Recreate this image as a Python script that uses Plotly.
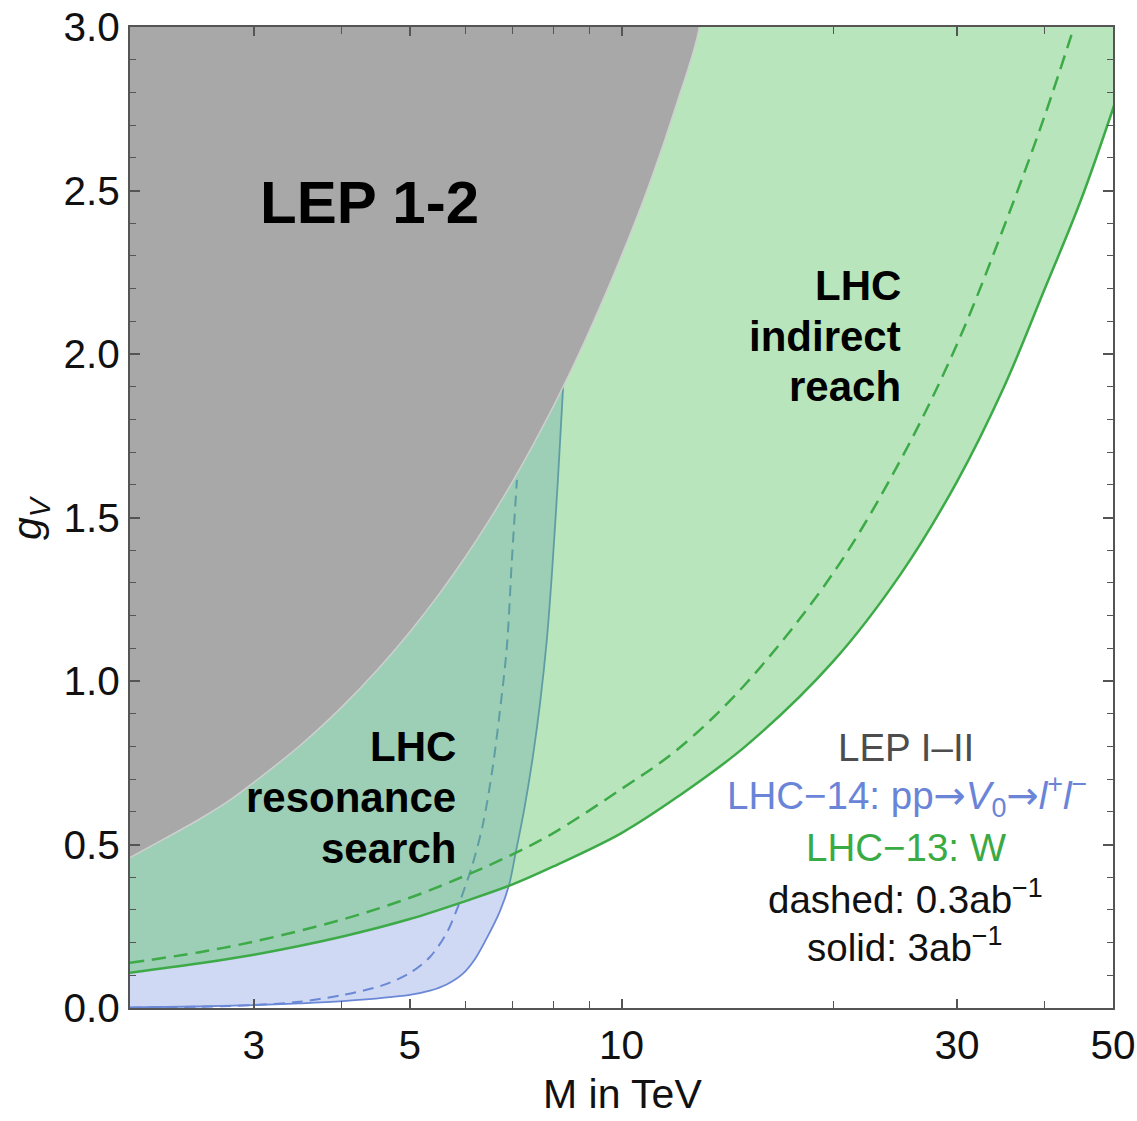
import math
import plotly.graph_objects as go

# ---------------- data ----------------
# LEP I-II exclusion boundary (g_V vs M in TeV)
M_lep = [2.0, 2.25, 2.5, 2.75, 3.0, 3.5, 4.0, 4.5, 5.0, 5.5, 6.0, 6.5, 7.0, 7.5, 8.0, 8.5, 9.0, 10.0, 11.0, 12.0, 12.9]
g_lep = [0.46, 0.52, 0.575, 0.63, 0.69, 0.805, 0.92, 1.035, 1.15, 1.265, 1.38, 1.495, 1.61, 1.725, 1.84, 1.955, 2.07, 2.30, 2.53, 2.77, 3.0]

# LHC-13 W, solid: 3 ab^-1
M_w_solid = [2.0, 2.5, 3.0, 4.0, 5.0, 6.0, 7.0, 8.0, 10.0, 12.0, 15.0, 20.0, 25.0, 30.0, 35.0, 40.0, 45.0, 50.0, 54.5]
g_w_solid = [0.108, 0.136, 0.163, 0.218, 0.272, 0.327, 0.378, 0.433, 0.535, 0.645, 0.80, 1.06, 1.33, 1.61, 1.90, 2.20, 2.47, 2.75, 3.0]

# LHC-13 W, dashed: 0.3 ab^-1
M_w_dash = [2.0, 2.5, 3.0, 4.0, 5.0, 6.0, 7.0, 8.0, 10.0, 12.0, 15.0, 20.0, 25.0, 30.0, 35.0, 40.0, 44.0]
g_w_dash = [0.138, 0.17, 0.203, 0.27, 0.337, 0.405, 0.47, 0.535, 0.67, 0.79, 0.99, 1.33, 1.68, 2.03, 2.39, 2.73, 3.0]

# LHC-14 pp -> V0 -> l+l-, solid: 3 ab^-1
M_res_solid = [2.0, 2.51, 2.99, 3.49, 4.02, 5.0, 5.34, 5.64, 5.95, 6.19, 6.43, 6.71, 6.92, 7.07,
               7.27, 7.48, 7.66, 7.83, 7.96, 8.12, 8.26]
g_res_solid = [0.0015, 0.0046, 0.009, 0.014, 0.021, 0.040, 0.053, 0.072, 0.105, 0.150, 0.213, 0.294, 0.376, 0.474,
               0.606, 0.768, 0.933, 1.125, 1.324, 1.615, 1.90]

# LHC-14 pp -> V0 -> l+l-, dashed: 0.3 ab^-1
M_res_dash = [2.0, 2.51, 2.99, 3.45, 4.02, 4.58, 5.0, 5.34, 5.64, 5.83, 5.95, 6.13, 6.35, 6.56, 6.71, 6.87, 6.98, 7.10]
g_res_dash = [0.001, 0.004, 0.009, 0.018, 0.040, 0.070, 0.107, 0.156, 0.229, 0.30, 0.352, 0.434, 0.560, 0.737, 0.902, 1.104, 1.361, 1.615]

x_ticks = [3, 5, 10, 30, 50]
x_ticktext = ["3", "5", "10", "30", "50"]
x_minor = [4, 6, 7, 8, 9, 20, 40]
y_ticks = [0.0, 0.5, 1.0, 1.5, 2.0, 2.5, 3.0]
y_ticktext = ["0.0", "0.5", "1.0", "1.5", "2.0", "2.5", "3.0"]

X_MIN, X_MAX = 2.0, 50.0
Y_MIN, Y_MAX = 0.0, 3.0

# ---------------- styles ----------------
FONT = "Liberation Sans, Arial, Helvetica, sans-serif"
BLUE_FILL = "rgba(100,130,220,0.30)"
BLUE_LINE = "#6A88D6"
GREEN_FILL = "rgba(80,190,90,0.40)"
GREEN_LINE = "#3DAA48"
GREY_FILL = "#A8A8A8"
AXIS_COL = "#555555"

# polygon closing corners placed outside the visible area (clipped away)
X_OUT = X_MIN * 0.8
Y_OUT = Y_MAX * 1.3

fig = go.Figure()

# LHC-14 resonance search region (above solid blue curve)
fig.add_trace(go.Scatter(
    x=M_res_solid + [M_res_solid[-1], X_OUT, X_OUT],
    y=g_res_solid + [Y_OUT, Y_OUT, g_res_solid[0]],
    fill="toself", fillcolor=BLUE_FILL, mode="lines",
    line=dict(width=0, shape="spline", smoothing=0.9),
    hoverinfo="skip", showlegend=False))
fig.add_trace(go.Scatter(
    x=M_res_dash, y=g_res_dash, mode="lines",
    line=dict(color=BLUE_LINE, width=2, dash="11px,7px", shape="spline", smoothing=0.9),
    showlegend=False))
fig.add_trace(go.Scatter(
    x=M_res_solid, y=g_res_solid, mode="lines",
    line=dict(color=BLUE_LINE, width=1.8, shape="spline", smoothing=0.9),
    showlegend=False))

# LHC-13 W indirect reach region (above solid green curve)
fig.add_trace(go.Scatter(
    x=M_w_solid + [M_w_solid[-1], X_OUT, X_OUT],
    y=g_w_solid + [Y_OUT, Y_OUT, g_w_solid[0]],
    fill="toself", fillcolor=GREEN_FILL, mode="lines",
    line=dict(width=0, shape="spline", smoothing=0.6),
    hoverinfo="skip", showlegend=False))
fig.add_trace(go.Scatter(
    x=M_w_dash, y=g_w_dash, mode="lines",
    line=dict(color=GREEN_LINE, width=2.5, dash="14px,8px", shape="spline", smoothing=1.0),
    showlegend=False))
fig.add_trace(go.Scatter(
    x=M_w_solid, y=g_w_solid, mode="lines",
    line=dict(color=GREEN_LINE, width=2.5, shape="spline", smoothing=1.0),
    showlegend=False))

# LEP exclusion (opaque grey)
fig.add_trace(go.Scatter(
    x=M_lep + [M_lep[-1], X_OUT, X_OUT],
    y=g_lep + [Y_OUT, Y_OUT, g_lep[0]],
    fill="toself", fillcolor=GREY_FILL, mode="lines",
    line=dict(color="#CFCFCF", width=1.5, shape="spline", smoothing=0.6),
    hoverinfo="skip", showlegend=False))

# ---------------- layout ----------------
L, R, T, B = 130, 24, 27, 113
W, H = 1137, 1121
pw, ph = W - L - R, H - T - B


def px(x):
    return (x - L) / pw


def py(y):
    return (H - B - y) / ph


annotations = []


def add_text(text, x, y, size, color="black", xanchor="center", bold=False, angle=0):
    annotations.append(dict(
        text=f"<b>{text}</b>" if bold else text,
        x=px(x), y=py(y), xref="paper", yref="paper",
        xanchor=xanchor, yanchor="middle", showarrow=False,
        textangle=angle,
        font=dict(family=FONT, size=size, color=color)))


ARROW = '<span style="font-family:DejaVu Sans">\u2192</span>'

add_text("LEP 1-2", 258, 203, 60, xanchor="left", bold=True)
add_text("LHC", 903, 285, 42, xanchor="right", bold=True)
add_text("indirect", 903, 336, 42, xanchor="right", bold=True)
add_text("reach", 903, 386, 42, xanchor="right", bold=True)
add_text("LHC", 458, 746, 42, xanchor="right", bold=True)
add_text("resonance", 458, 797, 42, xanchor="right", bold=True)
add_text("search", 458, 848, 42, xanchor="right", bold=True)

add_text("LEP I\u2013II", 906, 747, 38.5, color="#4D4D4D")
add_text("LHC\u221214: pp" + ARROW + "<i>V</i><sub>0</sub>" + ARROW +
         "<i>l</i><sup>+</sup><i>l</i><sup>\u2212</sup>",
         907, 796, 38.5, color="#6A84D8")
add_text("LHC\u221213: W", 906, 847, 38.5, color="#3AAA45")
add_text("dashed: 0.3ab<sup>\u22121</sup>", 905, 897, 38.5, color="#111111")
add_text("solid: 3ab<sup>\u22121</sup>", 905, 945, 38.5, color="#111111")

add_text("M in TeV", 622, 1094, 41, color="#111111")
add_text("<i>g</i><sub><i>V</i></sub>", 30, 518, 41, color="#111111", angle=-90)

fig.update_layout(
    width=W, height=H, autosize=False,
    margin=dict(l=L, r=R, t=T, b=B, pad=0, autoexpand=False),
    plot_bgcolor="white", paper_bgcolor="white",
    font=dict(family=FONT, size=40, color="#111111"),
    annotations=annotations,
    showlegend=False,
)

fig.update_xaxes(
    type="log", range=[math.log10(X_MIN), math.log10(X_MAX)],
    automargin=False,
    tickmode="array", tickvals=x_ticks, ticktext=x_ticktext,
    ticks="inside", ticklen=9, tickwidth=1.5, tickcolor=AXIS_COL,
    minor=dict(tickmode="array", tickvals=x_minor, ticks="inside",
               ticklen=7, tickwidth=1.2, tickcolor=AXIS_COL, showgrid=False),
    showline=True, linecolor=AXIS_COL, linewidth=2, mirror="ticks",
    showgrid=False, zeroline=False,
    tickfont=dict(family=FONT, size=40.5, color="#111111"),
)
fig.update_yaxes(
    range=[Y_MIN, Y_MAX],
    automargin=False,
    tickmode="array", tickvals=y_ticks, ticktext=y_ticktext,
    ticks="inside", ticklen=10, tickwidth=1.5, tickcolor=AXIS_COL,
    minor=dict(dtick=0.1, tick0=0, ticks="inside", ticklen=6,
               tickwidth=1.2, tickcolor=AXIS_COL, showgrid=False),
    showline=True, linecolor=AXIS_COL, linewidth=2, mirror="ticks",
    showgrid=False, zeroline=False,
    tickfont=dict(family=FONT, size=40.5, color="#111111"),
)

fig.write_html(
    "out.html",
    config={"displayModeBar": False},
    post_script="document.body.style.margin='0';document.body.style.padding='0';",
)
